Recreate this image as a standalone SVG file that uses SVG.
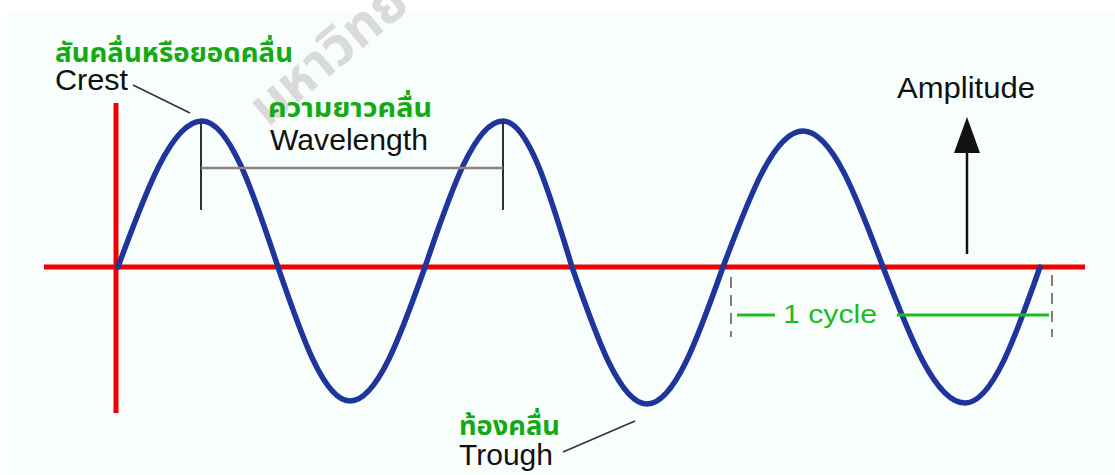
<svg xmlns="http://www.w3.org/2000/svg" width="1115" height="475" viewBox="0 0 1115 475">
<defs>
<style>
.en{font-family:"Liberation Sans",Arial,sans-serif;font-size:29px;fill:#111}
.th{font-family:"Noto Sans Thai","Noto Sans",Tahoma,sans-serif;font-size:26px;font-weight:bold;fill:#14aa14}
.axis{stroke:#f20000;stroke-width:5;fill:none}
.wave{stroke:#1f359c;stroke-width:5.5;fill:none;stroke-linejoin:round;stroke-linecap:round}
.mark{stroke:#3a2e30;stroke-width:2;fill:none}
.lead{stroke:#3a3030;stroke-width:1.6;fill:none}
.cyc{stroke:#1fbb1f;stroke-width:3;fill:none}
.dash{stroke:#8a7a70;stroke-width:2;stroke-dasharray:11 7;fill:none}
</style>
<marker id="ah" markerWidth="10" markerHeight="14" refX="5" refY="1" orient="auto" markerUnits="userSpaceOnUse" viewBox="0 0 10 14"/>
</defs>
<rect width="1115" height="475" fill="#ffffff"/>
<rect x="7" y="12" width="1108" height="463" fill="#f8fefb"/>
<text id="watermark" x="268" y="128" transform="rotate(-40 268 128)" style="font-family:'Noto Sans Thai','Noto Sans',sans-serif;font-size:54px;font-weight:bold;fill:#dadada">มหาวิทยาลัย</text>
<g id="axes">
<line class="axis" x1="44" y1="267" x2="1085" y2="267"/>
<line class="axis" x1="116" y1="103" x2="116" y2="413"/>
</g>
<g id="wave">
<path class="wave" d="M118,267 C145.4,192.2 171.6,121 202,121 C229.5,121 253.2,192.2 278,267 C301.5,335.6 323.9,401 350,401 C377.2,401 400.6,335.6 425,267 C450.4,192.2 474.8,121 503,121 C528,121 549.5,192.2 572,267 C596.5,337.1 619.9,404 647,404 C674.5,404 698.2,337.1 723,267 C749.1,197.4 774,131 803,131 C832,131 856.9,197.4 883,267 C909.7,336.6 935.3,403 965,403 C992.2,403 1015.6,336.6 1040,267"/>
</g>
<g id="connectors">
<line class="mark" x1="201" y1="121" x2="201" y2="210" stroke="#5a4848"/>
<line class="mark" x1="503" y1="121" x2="503" y2="210" stroke="#1a1414"/>
<line x1="201" y1="168" x2="503" y2="168" stroke="#8c8282" stroke-width="2.5"/>
<line class="lead" x1="133" y1="85" x2="190" y2="113"/>
<line class="lead" x1="563" y1="452" x2="635" y2="421"/>
<line x1="967" y1="254" x2="967" y2="150" stroke="#111" stroke-width="2.5"/>
<polygon points="967,117 954,153 980,153" fill="#111"/>
<line class="dash" x1="731" y1="277" x2="731" y2="337"/>
<line class="dash" x1="1052" y1="275" x2="1052" y2="337"/>
<line class="cyc" x1="737" y1="315" x2="775" y2="315"/>
<line class="cyc" x1="897" y1="315" x2="1049" y2="315"/>
</g>
<g id="crest-label">
<text class="th" x="55" y="62" textLength="238" lengthAdjust="spacingAndGlyphs">สันคลื่นหรือยอดคลื่น</text>
<text class="en" x="55" y="90" textLength="73" lengthAdjust="spacingAndGlyphs">Crest</text>
</g>
<g id="wavelength-label">
<text class="th" x="268" y="117" textLength="164" lengthAdjust="spacingAndGlyphs">ความยาวคลื่น</text>
<text class="en" x="270" y="150" textLength="158" lengthAdjust="spacingAndGlyphs">Wavelength</text>
</g>
<g id="amplitude-label">
<text class="en" x="897" y="98" textLength="138" lengthAdjust="spacingAndGlyphs">Amplitude</text>
</g>
<g id="cycle-label">
<text class="en" x="783" y="323" textLength="94" lengthAdjust="spacingAndGlyphs" style="fill:#1fbb1f;font-size:26px">1 cycle</text>
</g>
<g id="trough-label">
<text class="th" x="459" y="435" textLength="101" lengthAdjust="spacingAndGlyphs">ท้องคลื่น</text>
<text class="en" x="459" y="465" textLength="94" lengthAdjust="spacingAndGlyphs">Trough</text>
</g>
</svg>
